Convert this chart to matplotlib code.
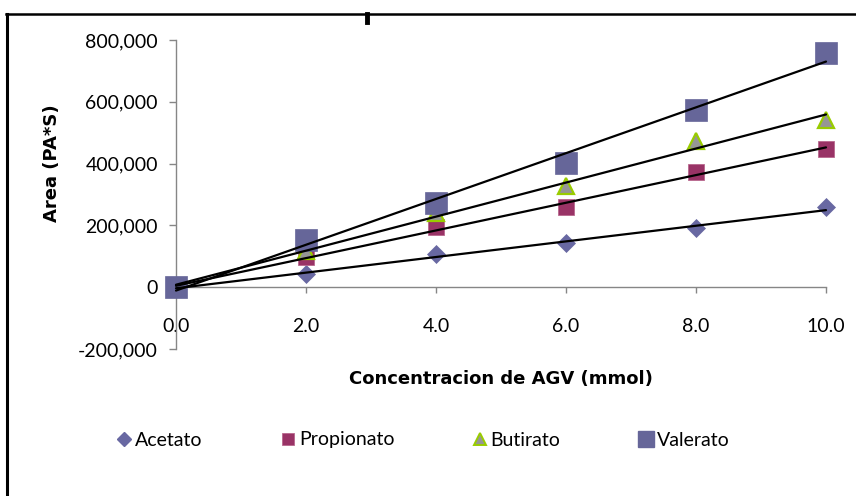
import numpy as np
import matplotlib
matplotlib.use("Agg")
import matplotlib.pyplot as plt
from matplotlib.lines import Line2D
from matplotlib.ticker import FuncFormatter

# Concentration (mmol) and peak area for each volatile fatty acid
conc = [0.0, 2.0, 4.0, 6.0, 8.0, 10.0]
acetato = [0, 42000, 106000, 142000, 190000, 258000]
propionato = [0, 97000, 194000, 258000, 374000, 448000]
butirato = [0, 118000, 240000, 329000, 474000, 540000]
valerato = [0, 152000, 271000, 403000, 574000, 758000]

x_ticks = [0.0, 2.0, 4.0, 6.0, 8.0, 10.0]
y_ticks = [-200000, 0, 200000, 400000, 600000, 800000]

plt.rcParams['font.family'] = ['Lato', 'DejaVu Sans']

W, H = 856, 496
fig = plt.figure(figsize=(W / 100, H / 100), dpi=100)
ax = fig.add_axes([176 / W, 1 - 349 / H, 650 / W, 309 / H])

series = [
    ('Acetato', acetato, dict(marker='D', ms=9.0, mfc='#6868A2', mec='#6868A2', mew=0.5)),
    ('Propionato', propionato, dict(marker='s', ms=11.5, mfc='#993366', mec='#B8688E', mew=0.6)),
    ('Butirato', butirato, dict(marker='^', ms=11.5, mfc='#969696', mec='#99CC00', mew=1.6)),
    ('Valerato', valerato, dict(marker='s', ms=16.5, mfc='#666699', mec='#666699', mew=0.5)),
]

xs = np.array(conc)
for name, vals, style in series:
    ax.plot(conc, vals, linestyle='none', zorder=3, **style)

# linear trend lines over the full concentration range
for name, vals, style in series:
    slope, intercept = np.polyfit(xs, np.array(vals), 1)
    xl = np.array([0.0, 10.0])
    ax.plot(xl, slope * xl + intercept, color='black', lw=1.6, zorder=4,
            solid_capstyle='round')

ax.set_xlim(0, 10)
ax.set_ylim(-200000, 800000)
ax.set_xticks(x_ticks)
ax.set_yticks(y_ticks)
ax.xaxis.set_major_formatter(FuncFormatter(lambda v, p: f'{v:.1f}'))
ax.yaxis.set_major_formatter(FuncFormatter(lambda v, p: f'{v:,.0f}'))

for s in ['top', 'right']:
    ax.spines[s].set_visible(False)
ax.spines['bottom'].set_position(('data', 0))
for s in ['left', 'bottom']:
    ax.spines[s].set_color('#868686')
    ax.spines[s].set_linewidth(1.0)
ax.tick_params(axis='y', direction='out', length=5, width=1, color='#868686',
               pad=8, labelsize=14)
ax.tick_params(axis='x', direction='out', length=4, width=1, color='#868686',
               pad=18, labelsize=14)
for ln in ax.lines:
    ln.set_clip_on(False)

fig.text(501 / W, 1 - 379 / H, 'Concentracion de AGV (mmol)', ha='center',
         va='center', fontsize=13, fontweight='bold', family='DejaVu Sans')
fig.text(52 / W, 1 - 163 / H, 'Area (PA*S)', ha='center', va='center',
         rotation=90, fontsize=13, fontweight='bold', family='DejaVu Sans')

handles = [
    Line2D([], [], linestyle='none', marker='D', ms=7, mfc='#6868A2', mec='#6868A2'),
    Line2D([], [], linestyle='none', marker='s', ms=8, mfc='#993366', mec='#B8688E', mew=0.6),
    Line2D([], [], linestyle='none', marker='^', ms=9, mfc='#969696', mec='#99CC00', mew=1.4),
    Line2D([], [], linestyle='none', marker='s', ms=11, mfc='#666699', mec='#666699'),
]
fig.legend(handles, [s[0] for s in series], loc='center', ncol=4,
           bbox_to_anchor=(423 / W, 1 - 440 / H), frameon=False, fontsize=14,
           handlelength=0.8, handletextpad=0.15, columnspacing=4.0)

# outer chart frame (left and top edges)
fig.add_artist(Line2D([7 / W, 7 / W], [0, 1 - 14 / H], color='black', lw=2.2,
                      transform=fig.transFigure))
fig.add_artist(Line2D([6 / W, 1], [1 - 14 / H, 1 - 14 / H], color='black', lw=1.8,
                      transform=fig.transFigure))
fig.add_artist(Line2D([367 / W, 367 / W], [1 - 14 / H, 1 - 22 / H], color='black',
                      lw=3.5, transform=fig.transFigure))

fig.savefig('out.png', dpi=100)
